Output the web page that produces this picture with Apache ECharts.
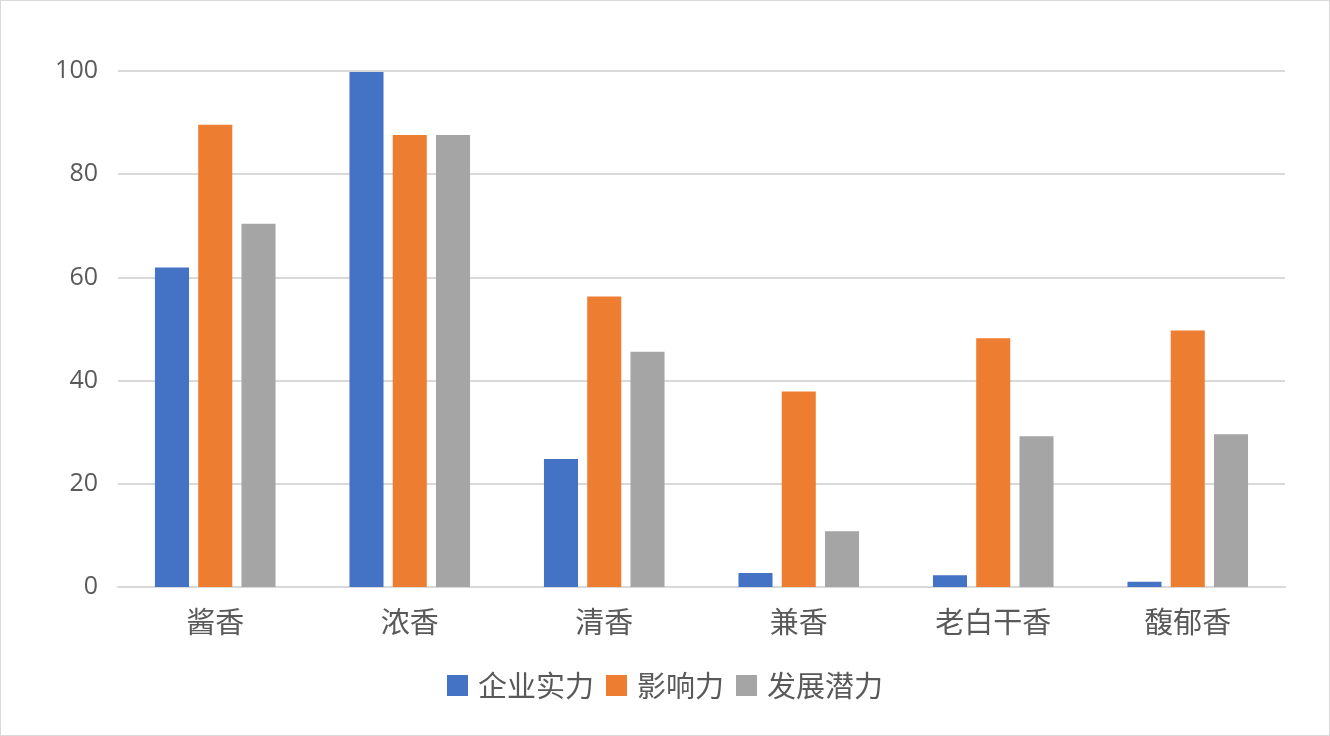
<!DOCTYPE html>
<html>
<head>
<meta charset="utf-8">
<script src="https://cdn.jsdelivr.net/npm/echarts@6/dist/echarts.min.js"></script>
<style>
  html, body { margin: 0; padding: 0; background: #fff; }
  #chart { width: 1328px; height: 734px; border: 1px solid #d9d9d9; }
</style>
</head>
<body>
<div id="chart"></div>
<script>
// 香型分类
const categories = ['酱香', '浓香', '清香', '兼香', '老白干香', '馥郁香']
const seriesNames = ['企业实力', '影响力', '发展潜力']
const strength = [61.9, 99.8, 24.8, 2.7, 2.3, 1.0]
const influence = [89.6, 87.6, 56.3, 37.9, 48.2, 49.7]
const potential = [70.4, 87.6, 45.6, 10.8, 29.2, 29.6]
const colors = ['#4472c4', '#ed7d31', '#a5a5a5']

const font = "'Noto Sans CJK SC', 'Microsoft YaHei', sans-serif"

const chart = echarts.init(document.getElementById('chart'))
const values = [strength, influence, potential]

chart.setOption({
  animation: false,
  textStyle: { fontFamily: font },
  legend: {
    bottom: 30,
    left: 'center',
    itemWidth: 21,
    itemHeight: 21,
    itemGap: 12,
    icon: 'rect',
    textStyle: { fontSize: 29, color: '#595959', fontFamily: font, padding: [0, 0, 0, 5] },
    data: seriesNames
  },
  grid: { left: 117, right: 44, top: 70, bottom: 148 },
  xAxis: {
    type: 'category',
    data: categories,
    axisLine: { lineStyle: { color: '#d9d9d9', width: 2 } },
    axisTick: { show: false },
    axisLabel: { fontSize: 29, color: '#595959', margin: 20, fontFamily: font }
  },
  yAxis: {
    type: 'value',
    min: 0,
    max: 100,
    interval: 20,
    axisLine: { show: false },
    axisTick: { show: false },
    splitLine: { lineStyle: { color: '#d9d9d9', width: 2 } },
    axisLabel: { fontSize: 25, color: '#595959', margin: 20, fontFamily: "'Open Sans', 'DejaVu Sans', sans-serif" }
  },
  series: seriesNames.map((name, i) => ({
    name: name,
    type: 'bar',
    data: values[i],
    barGap: '27%',
    barCategoryGap: '38%',
    itemStyle: { color: colors[i] }
  }))
})
</script>
</body>
</html>
